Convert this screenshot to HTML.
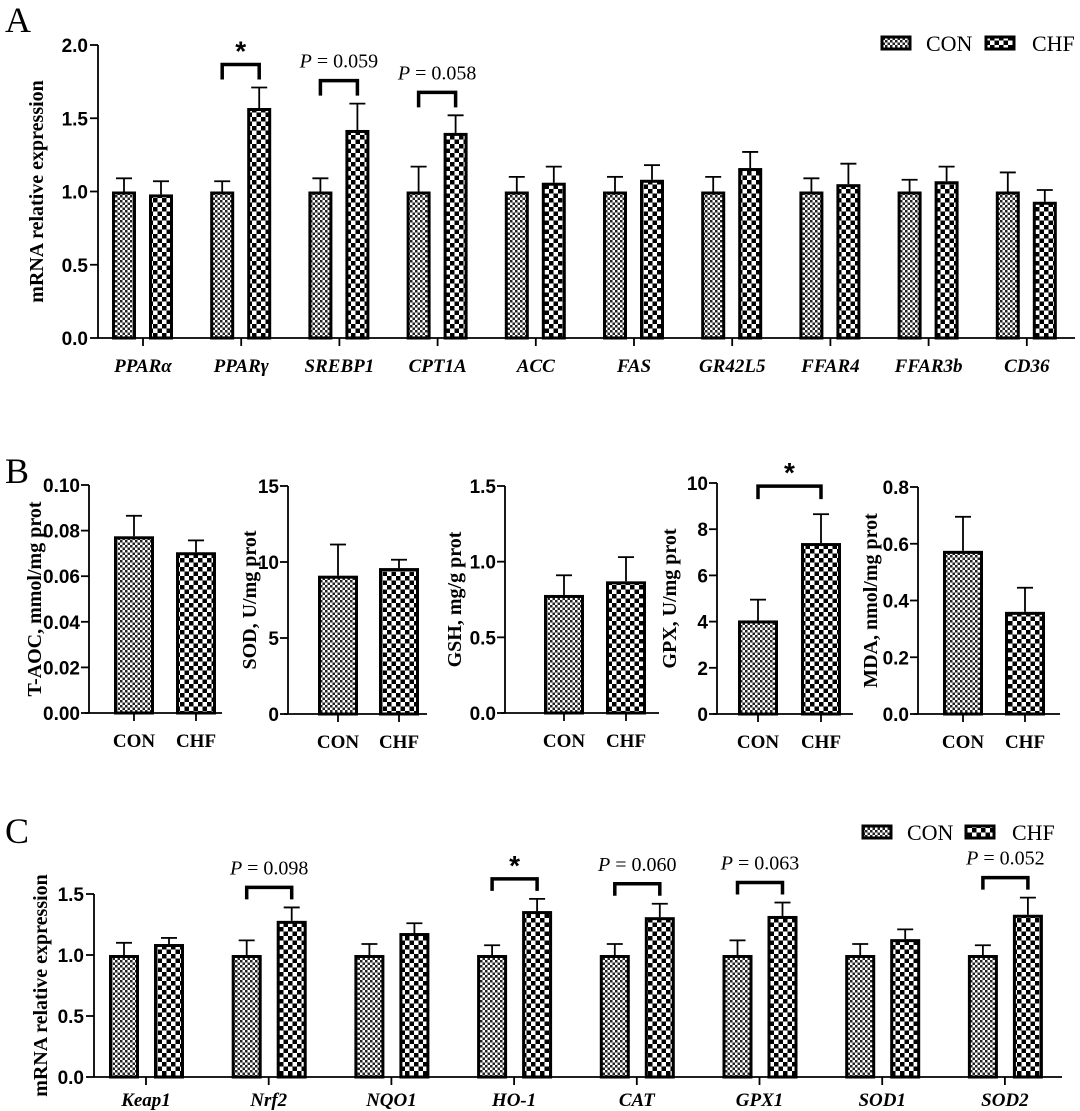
<!DOCTYPE html>
<html><head><meta charset="utf-8">
<style>
html,body{margin:0;padding:0;background:#fff;}
svg{display:block;}
.tick{font-family:"Liberation Sans",sans-serif;font-weight:bold;font-size:19px;}
.cat{font-family:"Liberation Serif",serif;font-weight:bold;font-style:italic;font-size:19px;}
.ytitle{font-family:"Liberation Serif",serif;font-weight:bold;font-size:20px;}
.grp{font-family:"Liberation Serif",serif;font-weight:bold;font-size:19px;}
.pval{font-family:"Liberation Serif",serif;font-size:20px;}
.leg{font-family:"Liberation Serif",serif;font-size:22px;}
.letter{font-family:"Liberation Serif",serif;font-size:36px;}
</style></head>
<body>
<svg id="fig" width="1080" height="1111" viewBox="0 0 1080 1111" xmlns="http://www.w3.org/2000/svg">
<defs>
<pattern id="pCon" patternUnits="userSpaceOnUse" width="5" height="5">
<rect width="5" height="5" fill="#fff"/><rect width="2.5" height="2.5" fill="#222"/><rect x="2.5" y="2.5" width="2.5" height="2.5" fill="#222"/>
</pattern>
<pattern id="pChf" patternUnits="userSpaceOnUse" width="9" height="9">
<rect width="9" height="9" fill="#fff"/><rect width="4.5" height="4.5" fill="#000"/><rect x="4.5" y="4.5" width="4.5" height="4.5" fill="#000"/>
</pattern>
</defs>
</svg>
<script>
// Panel A data
const catsA = ["PPARα","PPARγ","SREBP1","CPT1A","ACC","FAS","GR42L5","FFAR4","FFAR3b","CD36"];
const conA = [1,1,1,1,1,1,1,1,1,1];
const conErrA = [1.09,1.07,1.09,1.17,1.10,1.10,1.10,1.09,1.08,1.13];
const chfA = [0.98,1.57,1.42,1.40,1.06,1.08,1.16,1.05,1.07,0.93];
const chfErrA = [1.07,1.71,1.60,1.52,1.17,1.18,1.27,1.19,1.17,1.01];
const ticksA = ["0.0","0.5","1.0","1.5","2.0"];
const sigA = [null,"*","P = 0.059","P = 0.058",null,null,null,null,null,null];
// Panel B data
const groupsB = ["CON","CHF"];
const titlesB = ["T-AOC, mmol/mg prot","SOD, U/mg prot","GSH, mg/g prot","GPX, U/mg prot","MDA, nmol/mg prot"];
const meansB = [[0.0775,0.0705],[9.1,9.6],[0.78,0.87],[4.05,7.4],[0.575,0.36]];
const errsB = [[0.0865,0.0757],[11.15,10.15],[0.91,1.03],[4.95,8.65],[0.695,0.445]];
const maxB = [0.10,15,1.5,10,0.8];
const ticksB = [["0.00","0.02","0.04","0.06","0.08","0.10"],["0","5","10","15"],["0.0","0.5","1.0","1.5"],["0","2","4","6","8","10"],["0.0","0.2","0.4","0.6","0.8"]];
const sigB = [null,null,null,"*",null];
// Panel C data
const catsC = ["Keap1","Nrf2","NQO1","HO-1","CAT","GPX1","SOD1","SOD2"];
const conC = [1,1,1,1,1,1,1,1];
const conErrC = [1.10,1.12,1.09,1.08,1.09,1.12,1.09,1.08];
const chfC = [1.09,1.28,1.18,1.36,1.31,1.32,1.13,1.33];
const chfErrC = [1.14,1.39,1.26,1.46,1.42,1.43,1.21,1.47];
const ticksC = ["0.0","0.5","1.0","1.5"];
const sigC = [null,"P = 0.098",null,"*","P = 0.060","P = 0.063",null,"P = 0.052"];

const NS="http://www.w3.org/2000/svg";
const svg=document.getElementById('fig');
function mk(tag,attrs,parent){const e=document.createElementNS(NS,tag);for(const k in attrs)e.setAttribute(k,attrs[k]);(parent||svg).appendChild(e);return e;}
function txt(s,attrs,parent){const e=mk('text',attrs,parent);e.textContent=s;return e;}

function bar(g,x,w,y0,y1,fill,errY,name){
  const eb=mk('line',{x1:x+w/2,x2:x+w/2,y1:y1,y2:errY,stroke:'#000','stroke-width':1.8},g);
  
  
  const cap=mk('line',{x1:x+w/2-8,x2:x+w/2+8,y1:errY,y2:errY,stroke:'#000','stroke-width':1.8},g);
  
  
  const r=mk('rect',{x:x+1.5,y:y1+1.5,width:w-3,height:Math.max(0,y0-y1-1.5),fill:fill,stroke:'#000','stroke-width':3},g);
  
  
}
function bracket(g,x1,x2,yTop,drop,label,name){
  const p=mk('path',{d:`M${x1},${yTop+drop} V${yTop} H${x2} V${yTop+drop}`,fill:'none',stroke:'#000','stroke-width':3.5},g);
  
  
  const cx=(x1+x2)/2;
  let t;
  if(label==='*'){t=txt('*',{x:cx,y:yTop-4,'text-anchor':'middle',class:'tick',style:'font-size:28px'},g);}
  else{t=mk('text',{x:cx,y:yTop-13,'text-anchor':'middle',class:'pval'},g);
    const i=mk('tspan',{'font-style':'italic'},t);i.textContent='P';
    const r=mk('tspan',{},t);r.textContent=label.slice(1);}
  
  
}
function legend(g,y,x1,x2){
  const a=mk('rect',{x:x1,y:y-7,width:28,height:12,fill:'url(#pCon)',stroke:'#000','stroke-width':3},g);
  
  
  const at=txt('CON',{x:x1+44,y:y+7,class:'leg'},g);
  
  
  const b=mk('rect',{x:x2,y:y-7,width:28,height:12,fill:'url(#pChf)',stroke:'#000','stroke-width':3},g);
  
  
  const bt=txt('CHF',{x:x2+46,y:y+7,class:'leg'},g);
  
  
}

function groupedPanel(cfg){
  const g=mk('g',{});
  
  
  const maxV=parseFloat(cfg.ticks[cfg.ticks.length-1]);
  const yS=v=>cfg.y0-(cfg.y0-cfg.yTop)*v/maxV;
  const xS=i=>cfg.x0+i*cfg.step;
  const ax=mk('line',{x1:cfg.axX,x2:cfg.axX,y1:cfg.yTop,y2:cfg.y0,stroke:'#000','stroke-width':1.8},g);
  
  
  const xa=mk('line',{x1:cfg.axX,x2:cfg.axEnd,y1:cfg.y0,y2:cfg.y0,stroke:'#000','stroke-width':1.8},g);
  
  
  cfg.ticks.forEach(t=>{const y=yS(parseFloat(t));
    mk('line',{x1:cfg.axX-8,x2:cfg.axX,y1:y,y2:y,stroke:'#000','stroke-width':1.8},g);
    const l=txt(t,{x:cfg.axX-10,y:y+7,'text-anchor':'end',class:'tick'},g);
    
    });
  const yt=txt('mRNA relative expression',{x:0,y:0,'text-anchor':'middle',class:'ytitle',transform:`translate(${cfg.titleX},${(cfg.y0+cfg.yTop)/2}) rotate(-90)`},g);
  
  
  cfg.cats.forEach((c,i)=>{const cx=xS(i);
    mk('line',{x1:cx,x2:cx,y1:cfg.y0,y2:cfg.y0+8,stroke:'#000','stroke-width':1.8},g);
    const l=txt(c,{x:cx,y:cfg.y0+cfg.labDy,'text-anchor':'middle',class:'cat'},g);
    
    
    const xc=cx+cfg.offC-cfg.w/2, xh=cx+cfg.offH-cfg.w/2;
    bar(g,xc,cfg.w,cfg.y0,yS(cfg.con[i]),'url(#pCon)',yS(cfg.conErr[i]),'bar-con-'+c);
    bar(g,xh,cfg.w,cfg.y0,yS(cfg.chf[i]),'url(#pChf)',yS(cfg.chfErr[i]),'bar-chf-'+c);
    if(cfg.sig[i]){
      const top=Math.max(cfg.con[i],cfg.conErr[i],cfg.chfErr[i]);
      const yb=yS(top)-cfg.gap;
      bracket(g,cx+cfg.offC,cx+cfg.offH,yb,cfg.drop,cfg.sig[i],'sig-'+c);
    }
  });
  legend(g,cfg.legY,cfg.legX1,cfg.legX2);
}

txt('A',{x:5,y:32,class:'letter'});
txt('B',{x:5,y:483,class:'letter'});
txt('C',{x:5,y:843,class:'letter'});

groupedPanel({name:'panel-a',cats:catsA,con:conA,conErr:conErrA,chf:chfA,chfErr:chfErrA,ticks:ticksA,sig:sigA,
  axX:98,axEnd:1075,y0:338,yTop:45,x0:143,step:98.2,offC:-19,offH:18,w:24,gap:23,drop:15,titleX:43,labDy:34,legY:44,legX1:882,legX2:986});

groupedPanel({name:'panel-c',cats:catsC,con:conC,conErr:conErrC,chf:chfC,chfErr:chfErrC,ticks:ticksC,sig:sigC,
  axX:94,axEnd:1062,y0:1077,yTop:894,x0:146,step:122.7,offC:-22,offH:23,w:30,gap:20,drop:12,titleX:47,labDy:29,legY:833,legX1:863,legX2:966});

// Panel B
const bCfg=[
 {axX:89,yTop:485,y0:713,c:[134,196],end:222,tx:41},
 {axX:288,yTop:486,y0:714,c:[338,399],end:427,tx:256},
 {axX:505,yTop:486,y0:713,c:[564,626],end:659,tx:461},
 {axX:717,yTop:483,y0:714,c:[758,821],end:853,tx:676},
 {axX:918,yTop:487,y0:714,c:[963,1025],end:1060,tx:877}];
titlesB.forEach((t,k)=>{
  const c=bCfg[k];
  const g=mk('g',{});
  
  
  const yS=v=>c.y0-(c.y0-c.yTop)*v/maxB[k];
  mk('line',{x1:c.axX,x2:c.axX,y1:c.yTop,y2:c.y0,stroke:'#000','stroke-width':1.8},g);
  mk('line',{x1:c.axX-4,x2:c.end,y1:c.y0,y2:c.y0,stroke:'#000','stroke-width':1.8},g);
  ticksB[k].forEach(tl=>{const y=yS(parseFloat(tl));
    mk('line',{x1:c.axX-8,x2:c.axX,y1:y,y2:y,stroke:'#000','stroke-width':1.8},g);
    const l=txt(tl,{x:c.axX-9,y:y+7,'text-anchor':'end',class:'tick'},g);
    
    });
  const yt=txt(t,{x:0,y:0,'text-anchor':'middle',class:'ytitle',transform:`translate(${c.tx},${(c.y0+c.yTop)/2}) rotate(-90)`},g);
  
  
  groupsB.forEach((gn,j)=>{
    const cx=c.c[j];
    mk('line',{x1:cx,x2:cx,y1:c.y0,y2:c.y0+8,stroke:'#000','stroke-width':1.8},g);
    const l=txt(gn,{x:cx,y:c.y0+34,'text-anchor':'middle',class:'grp'},g);
    
    
    bar(g,cx-20,40,c.y0,yS(meansB[k][j]),j?'url(#pChf)':'url(#pCon)',yS(errsB[k][j]),'bar-'+gn.toLowerCase());
  });
  if(sigB[k]){
    const top=Math.max(errsB[k][0],errsB[k][1]);
    bracket(g,c.c[0],c.c[1],yS(top)-28,13,sigB[k],'sig-gpx');
  }
});
</script>
</body></html>
